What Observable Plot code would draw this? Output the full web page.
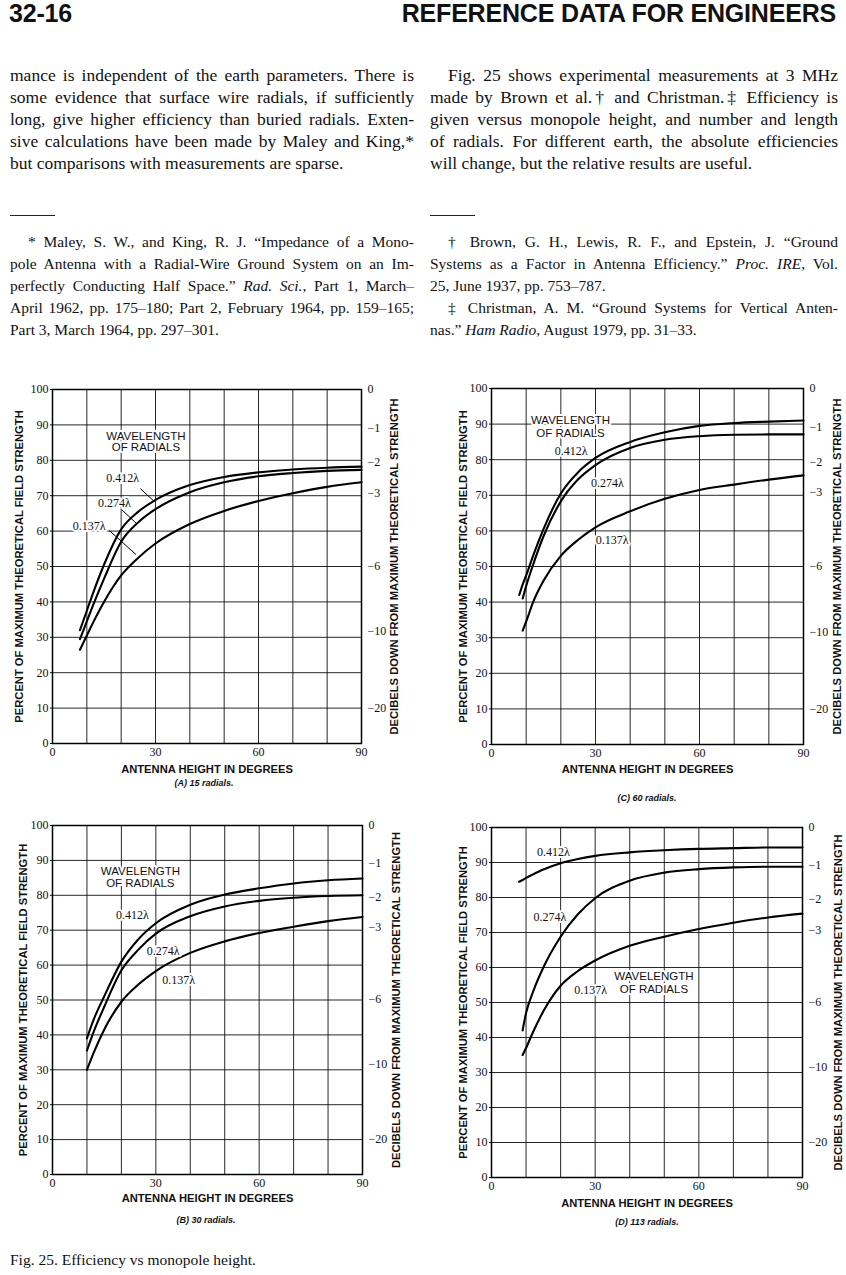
<!DOCTYPE html>
<html>
<head>
<meta charset="utf-8">
<script src="https://cdn.jsdelivr.net/npm/d3@7"></script>
<script src="https://cdn.jsdelivr.net/npm/@observablehq/plot@0.6"></script>
<style>
  html, body { margin: 0; padding: 0; background: #fff; }
  #page { position: relative; width: 846px; height: 1275px; overflow: hidden; background: #fff; color: #111; }
  .hdr { position: absolute; top: -1px; font: bold 25px "Liberation Sans", Arial, sans-serif; letter-spacing: -0.2px; }
  .col { position: absolute; font-family: "Liberation Serif", "Times New Roman", serif; }
  .ln { white-space: nowrap; text-align: justify; text-align-last: justify; }
  .ln.last { text-align-last: left; }
  .body .ln { font-size: 17.5px; height: 22px; line-height: 22px; }
  .foot .ln { font-size: 15.5px; height: 22px; line-height: 22px; }
  .rule { position: absolute; height: 1px; width: 45px; background: #222; }
  .chart { position: absolute; }
  .cap { position: absolute; font: italic bold 9px "Liberation Sans", Arial, sans-serif; transform: translate(-50%, -50%); white-space: nowrap; }
  .figcap { position: absolute; left: 10px; top: 1251px; font: 15.5px "Liberation Serif", "Times New Roman", serif; }
</style>
</head>
<body>
<div id="page">
  <div class="hdr" style="left:9px;">32-16</div>
  <div class="hdr" style="right:10px;">REFERENCE DATA FOR ENGINEERS</div>

  <div class="col body" style="left:10px; top:64px; width:404px;">
    <div class="ln">mance is independent of the earth parameters. There is</div>
    <div class="ln">some evidence that surface wire radials, if sufficiently</div>
    <div class="ln">long, give higher efficiency than buried radials. Exten-</div>
    <div class="ln">sive calculations have been made by Maley and King,*</div>
    <div class="ln last">but comparisons with measurements are sparse.</div>
  </div>
  <div class="col body" style="left:430px; top:64px; width:408px;">
    <div class="ln" style="padding-left:18px;">Fig. 25 shows experimental measurements at 3 MHz</div>
    <div class="ln">made by Brown et al.† and Christman.‡ Efficiency is</div>
    <div class="ln">given versus monopole height, and number and length</div>
    <div class="ln">of radials. For different earth, the absolute efficiencies</div>
    <div class="ln last">will change, but the relative results are useful.</div>
  </div>

  <div class="rule" style="left:10px; top:215px;"></div>
  <div class="rule" style="left:430px; top:215px;"></div>

  <div class="col foot" style="left:10px; top:231px; width:404px;">
    <div class="ln" style="padding-left:18px;">* Maley, S. W., and King, R. J. “Impedance of a Mono-</div>
    <div class="ln">pole Antenna with a Radial-Wire Ground System on an Im-</div>
    <div class="ln">perfectly Conducting Half Space.” <i>Rad. Sci.</i>, Part 1, March–</div>
    <div class="ln">April 1962, pp. 175–180; Part 2, February 1964, pp. 159–165;</div>
    <div class="ln last">Part 3, March 1964, pp. 297–301.</div>
  </div>
  <div class="col foot" style="left:430px; top:231px; width:408px;">
    <div class="ln" style="padding-left:18px;">† Brown, G. H., Lewis, R. F., and Epstein, J. “Ground</div>
    <div class="ln">Systems as a Factor in Antenna Efficiency.” <i>Proc. IRE</i>, Vol.</div>
    <div class="ln last">25, June 1937, pp. 753–787.</div>
    <div class="ln" style="padding-left:18px;">‡ Christman, A. M. “Ground Systems for Vertical Anten-</div>
    <div class="ln last">nas.” <i>Ham Radio</i>, August 1979, pp. 31–33.</div>
  </div>

  <div class="figcap">Fig. 25. Efficiency vs monopole height.</div>
</div>

<script>
// ---------------- DATA ----------------
const series = ["0.412λ", "0.274λ", "0.137λ"];

const gridDeg = [0, 10, 20, 30, 40, 50, 60, 70, 80, 90];
const gridPct = [0, 10, 20, 30, 40, 50, 60, 70, 80, 90, 100];
const xTickDeg = [0, 30, 60, 90];
const dbTickPct = [100, 89.1, 79.4, 70.8, 50.1, 31.6, 10];
const dbTickLabels = ["0", "−1", "−2", "−3", "−6", "−10", "−20"];

const yTitle = "PERCENT OF MAXIMUM THEORETICAL FIELD STRENGTH";
const rTitle = "DECIBELS DOWN FROM MAXIMUM THEORETICAL STRENGTH";
const xTitle = "ANTENNA HEIGHT IN DEGREES";

// (A) 15 radials
const degA = [8, 10, 12, 15, 20, 25, 30, 40, 50, 60, 70, 80, 90];
const a412 = [32, 37.5, 43, 50.5, 60.5, 65.5, 68.8, 73, 75.3, 76.6, 77.4, 77.9, 78.2];
const a274 = [29.5, 34.5, 39.5, 46.5, 57, 62.5, 66.2, 71, 73.8, 75.5, 76.4, 77, 77.3];
const a137 = [26.5, 30.5, 34.5, 40, 47.5, 52.5, 56.5, 62, 65.7, 68.5, 70.7, 72.5, 73.8];

// (B) 30 radials
const degB = [10, 12, 15, 20, 25, 30, 40, 50, 60, 70, 80, 90];
const b412 = [39, 44.5, 51, 61, 67.5, 72, 77.3, 80.2, 82, 83.4, 84.3, 84.8];
const b274 = [35.5, 41, 48, 58.5, 64.5, 69, 74, 76.8, 78.4, 79.3, 79.8, 80];
const b137 = [30, 35, 41.5, 49.5, 54.5, 58.3, 63.5, 66.8, 69.2, 71, 72.6, 73.8];

// (C) 60 radials
const degC = [8, 9, 10, 12, 15, 20, 25, 30, 40, 50, 60, 70, 80, 90];
const c412 = [42, 45, 47.5, 53, 60.5, 70.5, 76.5, 80.5, 85, 87.7, 89.5, 90.3, 90.7, 91];
const c274 = [null, 41, 44.5, 50.5, 58.5, 68.3, 74.5, 78.5, 83.3, 85.6, 86.6, 87, 87.1, 87.1];
const c137 = [null, 32, 34.5, 40, 46, 53, 57.5, 61, 65.5, 69, 71.5, 73, 74.4, 75.6];

// (D) 113 radials
const degD = [8, 9, 10, 12, 15, 20, 25, 30, 40, 50, 60, 70, 80, 90];
const d412 = [84.5, 85, 85.6, 86.6, 88, 89.8, 91, 91.9, 92.9, 93.5, 93.9, 94.1, 94.3, 94.3];
const d274 = [null, 42, 47, 53, 60, 68.8, 75.2, 79.8, 84.8, 87.1, 88.1, 88.6, 88.8, 88.8];
const d137 = [null, 35, 37, 41.5, 47.5, 54.8, 59, 62, 66.2, 68.8, 71, 72.8, 74.3, 75.4];

// curve labels (data coordinates: degrees, percent)
const lamLabelsA = [{t: "0.412λ", x: 20.4, y: 75}, {t: "0.274λ", x: 18, y: 68}, {t: "0.137λ", x: 10.7, y: 61.4}];
const noteA = [{t: "WAVELENGTH", x: 27.2, y: 86.8}, {t: "OF RADIALS", x: 27.2, y: 83.6}];
const leadersA = [
  {x1: 25.6, y1: 72, x2: 29.6, y2: 68.4},
  {x1: 20.2, y1: 66, x2: 24.3, y2: 62.3},
  {x1: 16.5, y1: 60.2, x2: 24.3, y2: 53.4}
];
const lamLabelsB = [{t: "0.412λ", x: 23.2, y: 74.4}, {t: "0.274λ", x: 32.1, y: 63.9}, {t: "0.137λ", x: 36.6, y: 55.8}];
const noteB = [{t: "WAVELENGTH", x: 25.5, y: 86.8}, {t: "OF RADIALS", x: 25.5, y: 83.5}];
const lamLabelsC = [{t: "0.412λ", x: 23, y: 82.5}, {t: "0.274λ", x: 33.4, y: 73.3}, {t: "0.137λ", x: 34.8, y: 57.4}];
const noteC = [{t: "WAVELENGTH", x: 22.8, y: 91.1}, {t: "OF RADIALS", x: 22.8, y: 87.5}];
const lamLabelsD = [{t: "0.412λ", x: 17.9, y: 93}, {t: "0.274λ", x: 16.9, y: 74.5}, {t: "0.137λ", x: 28.7, y: 53.5}];
const noteD = [{t: "WAVELENGTH", x: 47, y: 57.6}, {t: "OF RADIALS", x: 47, y: 53.8}];

const captions = ["(A) 15 radials.", "(B) 30 radials.", "(C) 60 radials.", "(D) 113 radials."];

// ---------------- LAYOUT ----------------
const SERIF = '"Liberation Serif", "Times New Roman", serif';
const SANS = '"Liberation Sans", Arial, Helvetica, sans-serif';

const charts = [
  {deg: degA, vals: [a412, a274, a137], lam: lamLabelsA, note: noteA, leaders: leadersA, cap: captions[0],
   left: 0, top: 380, width: 410, height: 400, ml: 52, mr: 49, mt: 9, mb: 37, ldx: -33, rdx: 33, xdy: 26, capX: 204, capY: 783},
  {deg: degB, vals: [b412, b274, b137], lam: lamLabelsB, note: noteB, leaders: [], cap: captions[1],
   left: 0, top: 815, width: 410, height: 400, ml: 52, mr: 48, mt: 10, mb: 41, ldx: -29, rdx: 34, xdy: 24, capX: 206, capY: 1220},
  {deg: degC, vals: [c412, c274, c137], lam: lamLabelsC, note: noteC, leaders: [], cap: captions[2],
   left: 420, top: 380, width: 426, height: 400, ml: 71, mr: 43, mt: 8, mb: 36, ldx: -28, rdx: 34, xdy: 25, capX: 647, capY: 798},
  {deg: degD, vals: [d412, d274, d137], lam: lamLabelsD, note: noteD, leaders: [], cap: captions[3],
   left: 420, top: 815, width: 426, height: 400, ml: 71, mr: 44, mt: 12, mb: 38, ldx: -28, rdx: 36, xdy: 26, capX: 647, capY: 1222}
];

const page = document.getElementById("page");

for (const c of charts) {
  const rows = [];
  c.vals.forEach((arr, si) => arr.forEach((v, i) => rows.push({deg: c.deg[i], pct: v, s: series[si]})));

  const halo = {stroke: "white", strokeWidth: 4, paintOrder: "stroke", fill: "#111"};
  const titleStyle = {rotate: -90, textAnchor: "middle", lineAnchor: "middle", text: d => d,
    fontFamily: SANS, fontWeight: "bold", fontSize: 11.2, fill: "#111"};

  const svg = Plot.plot({
    width: c.width,
    height: c.height,
    marginLeft: c.ml,
    marginRight: c.mr,
    marginTop: c.mt,
    marginBottom: c.mb,
    style: {background: "transparent", fontFamily: SERIF, color: "#111", overflow: "visible"},
    x: {domain: [0, 90]},
    y: {domain: [0, 100]},
    marks: [
      Plot.gridX(gridDeg, {stroke: "#111", strokeOpacity: 0.9, strokeWidth: 1}),
      Plot.gridY(gridPct, {stroke: "#111", strokeOpacity: 0.9, strokeWidth: 1}),
      Plot.frame({stroke: "#000", strokeWidth: 1.5}),
      Plot.axisX(xTickDeg, {tickSize: 0, tickPadding: 4, fontSize: 12, label: null, fontFamily: SERIF}),
      Plot.axisY(gridPct, {anchor: "left", tickSize: 2, tickPadding: 2, fontSize: 12, label: null, fontFamily: SERIF}),
      Plot.axisY(dbTickPct, {anchor: "right", tickSize: 0, tickPadding: 6, fontSize: 12, label: null, fontFamily: SERIF,
        tickFormat: d => dbTickLabels[dbTickPct.indexOf(d)]}),
      Plot.line(rows, {x: "deg", y: "pct", z: "s", curve: "monotone-x", stroke: "#000", strokeWidth: 2.1}),
      Plot.link(c.leaders, {x1: "x1", y1: "y1", x2: "x2", y2: "y2", stroke: "#000", strokeWidth: 1}),
      Plot.text(c.note, {x: "x", y: "y", text: "t", fontFamily: SANS, fontSize: 11.5, ...halo}),
      Plot.text(c.lam, {x: "x", y: "y", text: "t", fontFamily: SERIF, fontSize: 12, ...halo}),
      Plot.text([yTitle], {frameAnchor: "left", dx: c.ldx, ...titleStyle}),
      Plot.text([rTitle], {frameAnchor: "right", dx: c.rdx, ...titleStyle}),
      Plot.text([xTitle], {frameAnchor: "bottom", dy: c.xdy, textAnchor: "middle", lineAnchor: "middle", text: d => d,
        fontFamily: SANS, fontWeight: "bold", fontSize: 11.2, fill: "#111"})
    ]
  });

  const div = document.createElement("div");
  div.className = "chart";
  div.style.left = c.left + "px";
  div.style.top = c.top + "px";
  div.appendChild(svg);
  page.appendChild(div);

  const cap = document.createElement("div");
  cap.className = "cap";
  cap.style.left = c.capX + "px";
  cap.style.top = c.capY + "px";
  cap.textContent = c.cap;
  page.appendChild(cap);
}
</script>
</body>
</html>
